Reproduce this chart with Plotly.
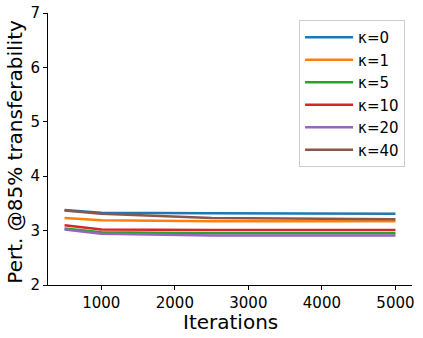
import plotly.graph_objects as go

iterations = [500, 1000, 2500, 5000]
k0 = [3.38, 3.33, 3.32, 3.31]
k1 = [3.23, 3.19, 3.17, 3.17]
k5 = [3.04, 2.97, 2.95, 2.95]
k10 = [3.10, 3.02, 3.01, 3.01]
k20 = [3.02, 2.94, 2.91, 2.91]
k40 = [3.37, 3.31, 3.23, 3.21]

names = ["κ=0", "κ=1", "κ=5", "κ=10", "κ=20", "κ=40"]
colors = ["#1f77b4", "#ff7f0e", "#2ca02c", "#d62728", "#9467bd", "#8c564b"]
series = [k0, k1, k5, k10, k20, k40]

fig = go.Figure()
for name, col, ys in zip(names, colors, series):
    fig.add_trace(go.Scatter(x=iterations, y=ys, name=name, mode="lines",
                             line=dict(color=col, width=2.5)))

axis_common = dict(showline=True, linecolor="black", linewidth=1, ticks="outside",
                   ticklen=4, tickcolor="black", showgrid=False, zeroline=False,
                   automargin=False, tickfont=dict(size=15, color="black"))

fig.update_layout(
    width=423, height=338,
    margin=dict(l=48, r=11, t=13, b=53),
    plot_bgcolor="white", paper_bgcolor="white",
    font=dict(family="DejaVu Sans", color="black"),
    xaxis=dict(range=[275, 5225], tickvals=[1000, 2000, 3000, 4000, 5000], **axis_common),
    yaxis=dict(range=[2, 7], dtick=1, **axis_common),
    legend=dict(x=0.981, y=0.974, xanchor="right", yanchor="top",
                bgcolor="white", bordercolor="#cccccc", borderwidth=1,
                font=dict(size=15), itemwidth=48, tracegroupgap=0),
    showlegend=True,
)

# axis titles as annotations so they sit where the reference has them
fig.add_annotation(text="Iterations", xref="paper", yref="paper", x=0.5, y=-0.137,
                   xanchor="center", yanchor="middle", showarrow=False,
                   font=dict(size=20, color="black"))
fig.add_annotation(text="Pert. @85% transferability", xref="paper", yref="paper",
                   x=-0.0907, y=0.49, xanchor="center", yanchor="middle", textangle=-90,
                   showarrow=False, font=dict(size=20, color="black"))

# drop the default 8px body margin so the figure fills the window
fig.write_html("out.html", config={"displayModeBar": False},
               post_script="document.body.style.margin='0px';")
